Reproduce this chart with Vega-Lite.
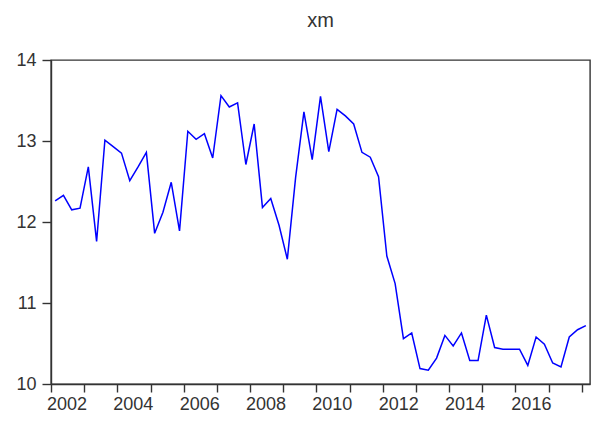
{
  "$schema": "https://vega.github.io/schema/vega-lite/v6.json",
  "width": 539,
  "height": 324,
  "autosize": "none",
  "padding": {"left": 51, "top": 60, "right": 3, "bottom": 41},
  "background": "white",
  "title": {
    "text": "xm",
    "font": "Liberation Sans",
    "fontSize": 20,
    "fontWeight": "normal",
    "color": "#333333",
    "anchor": "middle",
    "offset": 20
  },
  "config": {
    "view": {"stroke": "#333333", "strokeWidth": 1.4},
    "axis": {"grid": false}
  },
  "data": {
    "values": [
      {"t": 2002.125, "xm": 12.26},
      {"t": 2002.375, "xm": 12.33},
      {"t": 2002.625, "xm": 12.15},
      {"t": 2002.875, "xm": 12.17},
      {"t": 2003.125, "xm": 12.68},
      {"t": 2003.375, "xm": 11.76},
      {"t": 2003.625, "xm": 13.01},
      {"t": 2003.875, "xm": 12.93},
      {"t": 2004.125, "xm": 12.85},
      {"t": 2004.375, "xm": 12.51},
      {"t": 2004.625, "xm": 12.68},
      {"t": 2004.875, "xm": 12.86},
      {"t": 2005.125, "xm": 11.86},
      {"t": 2005.375, "xm": 12.12},
      {"t": 2005.625, "xm": 12.49},
      {"t": 2005.875, "xm": 11.89},
      {"t": 2006.125, "xm": 13.12},
      {"t": 2006.375, "xm": 13.02},
      {"t": 2006.625, "xm": 13.09},
      {"t": 2006.875, "xm": 12.79},
      {"t": 2007.125, "xm": 13.56},
      {"t": 2007.375, "xm": 13.42},
      {"t": 2007.625, "xm": 13.47},
      {"t": 2007.875, "xm": 12.71},
      {"t": 2008.125, "xm": 13.21},
      {"t": 2008.375, "xm": 12.18},
      {"t": 2008.625, "xm": 12.29},
      {"t": 2008.875, "xm": 11.96},
      {"t": 2009.125, "xm": 11.54},
      {"t": 2009.375, "xm": 12.55},
      {"t": 2009.625, "xm": 13.36},
      {"t": 2009.875, "xm": 12.77},
      {"t": 2010.125, "xm": 13.55},
      {"t": 2010.375, "xm": 12.87},
      {"t": 2010.625, "xm": 13.39},
      {"t": 2010.875, "xm": 13.31},
      {"t": 2011.125, "xm": 13.21},
      {"t": 2011.375, "xm": 12.86},
      {"t": 2011.625, "xm": 12.80},
      {"t": 2011.875, "xm": 12.56},
      {"t": 2012.125, "xm": 11.58},
      {"t": 2012.375, "xm": 11.24},
      {"t": 2012.625, "xm": 10.56},
      {"t": 2012.875, "xm": 10.63},
      {"t": 2013.125, "xm": 10.19},
      {"t": 2013.375, "xm": 10.17},
      {"t": 2013.625, "xm": 10.32},
      {"t": 2013.875, "xm": 10.60},
      {"t": 2014.125, "xm": 10.47},
      {"t": 2014.375, "xm": 10.63},
      {"t": 2014.625, "xm": 10.29},
      {"t": 2014.875, "xm": 10.29},
      {"t": 2015.125, "xm": 10.85},
      {"t": 2015.375, "xm": 10.45},
      {"t": 2015.625, "xm": 10.43},
      {"t": 2015.875, "xm": 10.43},
      {"t": 2016.125, "xm": 10.43},
      {"t": 2016.375, "xm": 10.23},
      {"t": 2016.625, "xm": 10.58},
      {"t": 2016.875, "xm": 10.49},
      {"t": 2017.125, "xm": 10.26},
      {"t": 2017.375, "xm": 10.21},
      {"t": 2017.625, "xm": 10.58},
      {"t": 2017.875, "xm": 10.67},
      {"t": 2018.125, "xm": 10.72}
    ]
  },
  "mark": {"type": "line", "color": "#0000ff", "strokeWidth": 1.5},
  "encoding": {
    "x": {
      "field": "t",
      "type": "quantitative",
      "scale": {"domain": [2002, 2018.25], "nice": false, "zero": false},
      "axis": {
        "title": null,
        "values": [2002, 2003, 2004, 2005, 2006, 2007, 2008, 2009, 2010, 2011, 2012, 2013, 2014, 2015, 2016, 2017, 2018],
        "format": "d",
        "labelExpr": "datum.value % 2 == 0 && datum.value < 2018 ? datum.label : ''",
        "labelOffset": 15.5,
        "labelOverlap": false,
        "labelFlush": false,
        "labelBound": false,
        "labelFont": "Liberation Sans",
        "labelFontSize": 18,
        "labelColor": "#333333",
        "labelPadding": 3,
        "tickSize": 8,
        "tickColor": "#333333",
        "tickWidth": 1.4,
        "domainColor": "#333333",
        "domainWidth": 1.4
      }
    },
    "y": {
      "field": "xm",
      "type": "quantitative",
      "scale": {"domain": [10, 14], "nice": false, "zero": false},
      "axis": {
        "title": null,
        "values": [10, 11, 12, 13, 14],
        "labelFont": "Liberation Sans",
        "labelFontSize": 18,
        "labelColor": "#333333",
        "labelPadding": 6,
        "tickSize": 9,
        "tickColor": "#333333",
        "tickWidth": 1.4,
        "domainColor": "#333333",
        "domainWidth": 1.4
      }
    }
  }
}
